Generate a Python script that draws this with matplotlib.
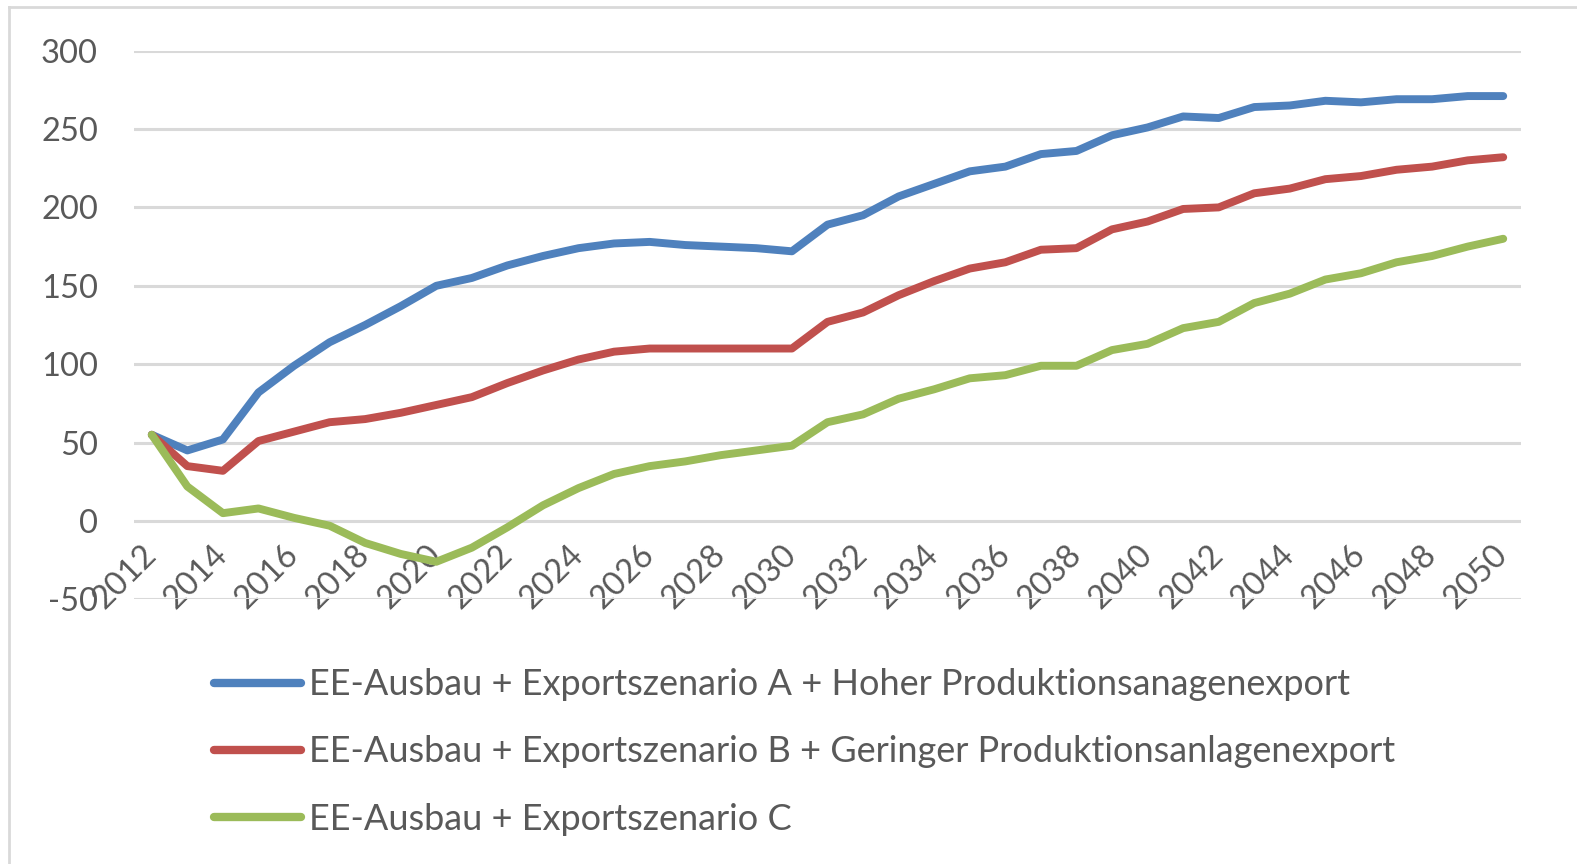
import matplotlib.pyplot as plt
import matplotlib.lines as mlines

plt.rcParams['font.family'] = ['Lato', 'DejaVu Sans']
plt.rcParams['axes.unicode_minus'] = False

years = list(range(2012, 2051))

# Szenario A: hoher Produktionsanlagenexport
szen_a = [55, 45, 52, 82, 99, 114, 125, 137, 150, 155, 163, 169, 174, 177, 178,
          176, 175, 174, 172, 189, 195, 207, 215, 223, 226, 234, 236, 246, 251,
          258, 257, 264, 265, 268, 267, 269, 269, 271, 271]
# Szenario B: geringer Produktionsanlagenexport
szen_b = [55, 35, 32, 51, 57, 63, 65, 69, 74, 79, 88, 96, 103, 108, 110,
          110, 110, 110, 110, 127, 133, 144, 153, 161, 165, 173, 174, 186, 191,
          199, 200, 209, 212, 218, 220, 224, 226, 230, 232]
# Szenario C
szen_c = [55, 22, 5, 8, 2, -3, -14, -21, -26, -17, -4, 10, 21, 30, 35,
          38, 42, 45, 48, 63, 68, 78, 84, 91, 93, 99, 99, 109, 113,
          123, 127, 139, 145, 154, 158, 165, 169, 175, 180]

labels = ['EE-Ausbau + Exportszenario A + Hoher Produktionsanagenexport',
          'EE-Ausbau + Exportszenario B + Geringer Produktionsanlagenexport',
          'EE-Ausbau + Exportszenario C']
colors = ['#4F81BD', '#C0504D', '#9BBB59']
yticks = [-50, 0, 50, 100, 150, 200, 250, 300]
xticks = list(range(2012, 2051, 2))

fig = plt.figure(figsize=(15.77, 8.64), dpi=100)
ax = fig.add_axes([134 / 1577, 1 - 599.4 / 864, (1521 - 134) / 1577, (599.4 - 50.6) / 864])

for vals, col in zip([szen_a, szen_b, szen_c], colors):
    ax.plot(years, vals, color=col, linewidth=5.7, solid_capstyle='round', zorder=3)

ax.set_xlim(2011.5, 2050.5)
ax.set_ylim(-50, 300)
ax.set_yticks(yticks)
ax.set_xticks(xticks)
ax.yaxis.grid(True, color='#D9D9D9', linewidth=2.2)
ax.set_axisbelow(True)
for s in ax.spines.values():
    s.set_visible(False)
# Kategorienachse kreuzt bei 0, Beschriftung direkt darunter
ax.spines['bottom'].set_position(('data', 0))
ax.tick_params(axis='both', length=0, labelcolor='#595959')
ax.tick_params(axis='y', pad=26, labelsize=23.5)
ax.tick_params(axis='x', pad=21, labelsize=23.5)
for lbl in ax.get_xticklabels():
    lbl.set_rotation(45)
    lbl.set_rotation_mode('anchor')
    lbl.set_ha('right')
    lbl.set_va('center')

# Rahmen des Diagrammbereichs
fig.add_artist(mlines.Line2D([9 / 1577, 9 / 1577], [0, 1 - 7 / 864],
                             transform=fig.transFigure, color='#D9D9D9', linewidth=2))
fig.add_artist(mlines.Line2D([9 / 1577, 1], [1 - 7 / 864, 1 - 7 / 864],
                             transform=fig.transFigure, color='#D9D9D9', linewidth=2))

handles = [mlines.Line2D([], [], color=c, linewidth=6, solid_capstyle='round') for c in colors]
leg = fig.legend(handles, labels, loc='center left', bbox_to_anchor=(214 / 1577, 1 - 752 / 864),
                 frameon=False, fontsize=26, handlelength=2.4, handletextpad=0.22,
                 labelspacing=0.95, borderpad=0, borderaxespad=0)
for t in leg.get_texts():
    t.set_color('#595959')

fig.savefig('out.png', dpi=100)
